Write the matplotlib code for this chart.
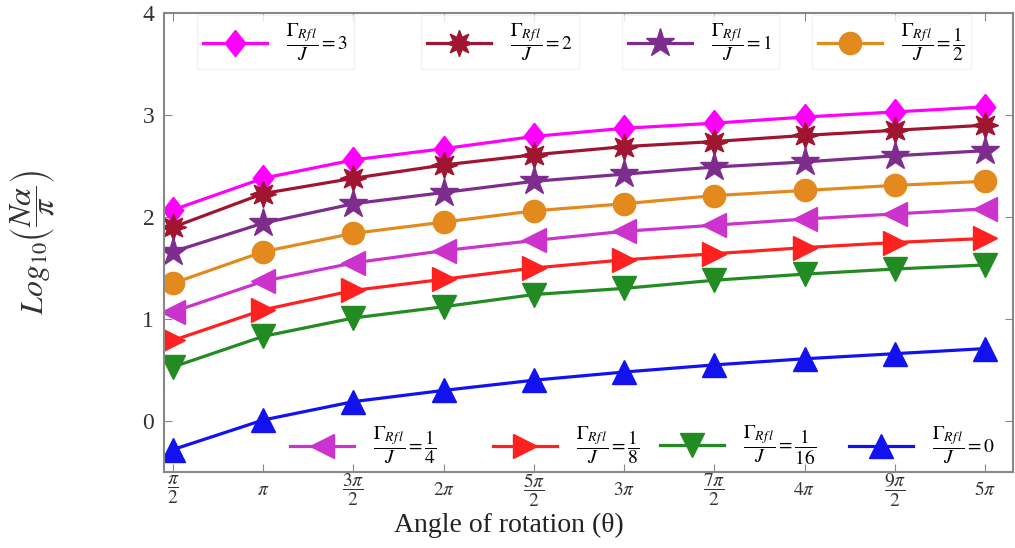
import numpy as np
import matplotlib
matplotlib.use("Agg")
import matplotlib.pyplot as plt
from matplotlib.legend import Legend

plt.rcParams['font.family'] = ['Liberation Serif', 'DejaVu Serif']
plt.rcParams['mathtext.fontset'] = 'stix'

# angle of rotation in units of pi
theta_over_pi = [0.5, 1.0, 1.5, 2.0, 2.5, 3.0, 3.5, 4.0, 4.5, 5.0]
tick_labels = [r'$\dfrac{\pi}{2}$', r'$\pi$', r'$\dfrac{3\pi}{2}$', r'$2\pi$',
               r'$\dfrac{5\pi}{2}$', r'$3\pi$', r'$\dfrac{7\pi}{2}$', r'$4\pi$',
               r'$\dfrac{9\pi}{2}$', r'$5\pi$']

# log10(N alpha / pi) for each Gamma_Rfl / J
g_3 = [2.07, 2.38, 2.56, 2.67, 2.79, 2.87, 2.92, 2.98, 3.03, 3.08]
g_2 = [1.90, 2.23, 2.38, 2.51, 2.61, 2.69, 2.74, 2.80, 2.85, 2.90]
g_1 = [1.66, 1.94, 2.13, 2.24, 2.35, 2.42, 2.49, 2.54, 2.60, 2.65]
g_half = [1.35, 1.66, 1.84, 1.95, 2.06, 2.13, 2.21, 2.26, 2.31, 2.35]
g_quarter = [1.07, 1.37, 1.55, 1.67, 1.77, 1.86, 1.92, 1.98, 2.03, 2.08]
g_eighth = [0.79, 1.09, 1.28, 1.39, 1.50, 1.58, 1.64, 1.70, 1.75, 1.79]
g_sixteenth = [0.53, 0.83, 1.01, 1.12, 1.24, 1.30, 1.38, 1.44, 1.49, 1.53]
g_0 = [-0.28, 0.01, 0.19, 0.30, 0.40, 0.48, 0.55, 0.61, 0.66, 0.71]

gamma = r'\dfrac{\Gamma_{Rf\,l}}{J}'
labels = [rf'${gamma}=3$', rf'${gamma}=2$', rf'${gamma}=1$', rf'${gamma}=\dfrac{{1}}{{2}}$',
          rf'${gamma}=\dfrac{{1}}{{4}}$', rf'${gamma}=\dfrac{{1}}{{8}}$',
          rf'${gamma}=\dfrac{{1}}{{16}}$', rf'${gamma}=0$']

diamond = [(0, 1), (0.78, 0), (0, -1), (-0.78, 0), (0, 1)]
styles = [
    (g_3, '#ff00ff', diamond, 19),
    (g_2, '#a01530', (8, 1, 0), 19),
    (g_1, '#7e2c8e', '*', 21),
    (g_half, '#e38a1e', 'o', 16),
    (g_quarter, '#cc33cc', '<', 17),
    (g_eighth, '#ff2020', '>', 17),
    (g_sixteenth, '#228b22', 'v', 17),
    (g_0, '#1212f0', '^', 17),
]

fig = plt.figure(figsize=(10.15, 5.48), dpi=100)
ax = fig.add_axes([164 / 1015, 1 - 472 / 548, 849 / 1015, 459 / 548])

x = np.array(theta_over_pi) * np.pi
lines = []
for (y, c, m, ms), lab in zip(styles, labels):
    ln, = ax.plot(x, y, color=c, marker=m, markersize=ms, lw=2.3, label=lab)
    lines.append(ln)

ax.set_xlim(0.45 * np.pi, 5.155 * np.pi)
ax.set_ylim(-0.5, 4.0)
ax.set_yticks([0, 1, 2, 3, 4])
ax.set_xticks(x)
ax.set_xticklabels(tick_labels, fontsize=14)
for t in ax.get_xticklabels():
    t.set_va('center')
ax.tick_params(axis='x', pad=13)
ax.tick_params(axis='y', labelsize=17, pad=7)
ax.tick_params(direction='in', top=True, right=True, length=6, color='#888888',
               labelcolor='#333333')
for s in ax.spines.values():
    s.set_color('#888888')
    s.set_linewidth(1.5)

ax.set_xlabel('Angle of rotation (θ)', fontsize=20, color='#222222')
ax.xaxis.set_label_coords(0.406, -0.09)
ax.set_ylabel(r'$Log_{10}\left(\dfrac{N\alpha}{\pi}\right)$', fontsize=23, color='#333333')
ax.yaxis.set_label_coords(-0.125, 0.5)

# one small legend box per series, like the original
top_pos = [(197, 42), (421, 42), (622, 42), (812, 42)]
bot_pos = [(284, 445), (487, 445), (654, 445), (843, 445)]
for i, (px, py) in enumerate(top_pos + bot_pos):
    leg = Legend(ax, [lines[i]], [labels[i]], loc='center left',
                 bbox_to_anchor=((px - 164) / 849, (472 - py) / 459),
                 borderaxespad=0, fontsize=14, handlelength=3.3,
                 handletextpad=1.0, numpoints=1, borderpad=0.3,
                 frameon=i < 4, fancybox=False)
    if i < 4:
        leg.get_frame().set_edgecolor('#f0f0f0')
        leg.get_frame().set_linewidth(1.0)
    ax.add_artist(leg)

fig.savefig('out.png', dpi=100)
